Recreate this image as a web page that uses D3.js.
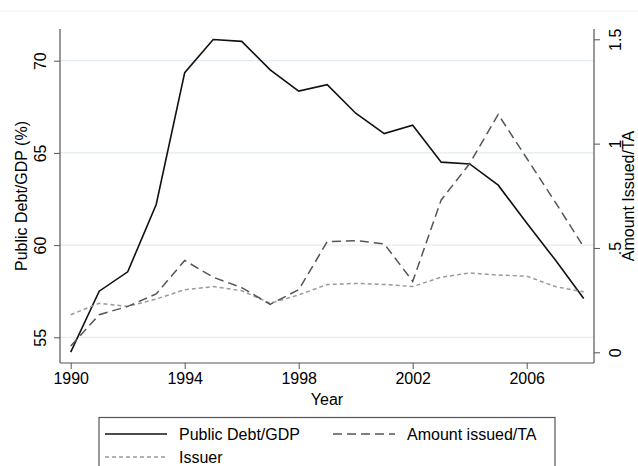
<!DOCTYPE html>
<html>
<head>
<meta charset="utf-8">
<script src="https://cdn.jsdelivr.net/npm/d3@7"></script>
<style>
  body { margin: 0; background: #fff; }
  text { font-family: "Liberation Sans", Arial, sans-serif; }
</style>
</head>
<body>
<div id="chart"></div>
<script>
// data
let years = [1990, 1991, 1992, 1993, 1994, 1995, 1996, 1997, 1998, 1999,
             2000, 2001, 2002, 2003, 2004, 2005, 2006, 2007, 2008];
let debtGdp = [54.2, 57.5, 58.55, 62.2, 69.35, 71.15, 71.05, 69.5, 68.35, 68.7,
               67.15, 66.05, 66.5, 64.5, 64.4, 63.25, 61.2, 59.2, 57.1];
let amountIssued = [0.03, 0.18, 0.22, 0.28, 0.44, 0.36, 0.31, 0.23, 0.30, 0.53,
                    0.535, 0.52, 0.34, 0.73, 0.905, 1.14, 0.93, 0.72, 0.505];
let issuer = [0.18, 0.235, 0.22, 0.255, 0.30, 0.315, 0.295, 0.235, 0.275, 0.325,
              0.33, 0.325, 0.315, 0.36, 0.38, 0.37, 0.365, 0.315, 0.29];
let xTicks = [1990, 1994, 1998, 2002, 2006];
let leftTicks = [55, 60, 65, 70];
let rightTicks = [0, 0.5, 1, 1.5];
let rightTickLabels = ["0", ".5", "1", "1.5"];

let svgWidth = 638;
let svgHeight = 466;
let plot = { left: 60, right: 594, top: 29, bottom: 363 };

let svg = d3.select("#chart").append("svg")
  .attr("width", svgWidth)
  .attr("height", svgHeight);

// scales
let xScale = d3.scaleLinear().domain([1990, 2008]).range([70.7, 583.7]);
let yLeft = d3.scaleLinear().domain([55, 70]).range([337.3, 60.7]);
let yRight = d3.scaleLinear().domain([0, 1.5]).range([352.3, 39.3]);

// faint top border line
svg.append("line")
  .attr("x1", 0).attr("x2", svgWidth)
  .attr("y1", 11).attr("y2", 11)
  .attr("stroke", "#eef0f2").attr("stroke-width", 1);

// gridlines
svg.append("g").selectAll("line")
  .data(leftTicks)
  .enter()
  .append("line")
  .attr("x1", plot.left).attr("x2", plot.right)
  .attr("y1", function(d) { return yLeft(d); })
  .attr("y2", function(d) { return yLeft(d); })
  .attr("stroke", "#e3ecf0").attr("stroke-width", 1.2);

// axes
let axisColor = "#555";
let leftAxis = svg.append("g")
  .attr("transform", "translate(" + plot.left + ",0)")
  .call(d3.axisLeft(yLeft).tickValues(leftTicks).tickSize(6).tickPadding(14).tickFormat(d3.format("d")));

let rightAxis = svg.append("g")
  .attr("transform", "translate(" + plot.right + ",0)")
  .call(d3.axisRight(yRight).tickValues(rightTicks).tickSize(6).tickPadding(14)
    .tickFormat(function(d, i) { return rightTickLabels[i]; }));

let bottomAxis = svg.append("g")
  .attr("transform", "translate(0," + plot.bottom + ")")
  .call(d3.axisBottom(xScale).tickValues(xTicks).tickSize(6).tickPadding(4).tickFormat(d3.format("d")));

[leftAxis, rightAxis, bottomAxis].forEach(function(ax) {
  ax.select(".domain").remove();
  ax.selectAll(".tick line").attr("stroke", axisColor);
  ax.selectAll(".tick text").attr("fill", "#000").style("font-size", "16px")
    .style("font-family", "'Liberation Sans', Arial, sans-serif");
});

// rotate y tick labels
leftAxis.selectAll(".tick text")
  .attr("transform", "rotate(-90)")
  .attr("x", 0).attr("y", -20)
  .attr("dy", "0.35em")
  .attr("text-anchor", "middle");
rightAxis.selectAll(".tick text")
  .attr("transform", "rotate(-90)")
  .attr("x", 0).attr("y", 21)
  .attr("dy", "0.35em")
  .attr("text-anchor", "middle");

// axis lines
svg.append("line").attr("x1", plot.left).attr("x2", plot.left)
  .attr("y1", plot.top).attr("y2", plot.bottom).attr("stroke", axisColor).attr("stroke-width", 1.2);
svg.append("line").attr("x1", plot.right).attr("x2", plot.right)
  .attr("y1", plot.top).attr("y2", plot.bottom).attr("stroke", axisColor).attr("stroke-width", 1.2);
svg.append("line").attr("x1", plot.left).attr("x2", plot.right)
  .attr("y1", plot.bottom).attr("y2", plot.bottom).attr("stroke", axisColor).attr("stroke-width", 1.2);

// series lines
let series = [
  { values: debtGdp, scale: yLeft, color: "#111", dash: null, width: 1.6 },
  { values: issuer, scale: yRight, color: "#9a9a9a", dash: "4,3", width: 1.5 },
  { values: amountIssued, scale: yRight, color: "#555", dash: "9,5", width: 1.5 }
];

series.forEach(function(s) {
  let line = d3.line()
    .x(function(d, i) { return xScale(years[i]); })
    .y(function(d) { return s.scale(d); });
  svg.append("path")
    .datum(s.values)
    .attr("d", line)
    .attr("fill", "none")
    .attr("stroke", s.color)
    .attr("stroke-width", s.width)
    .attr("stroke-dasharray", s.dash);
});

// axis titles
svg.append("text")
  .text("Year")
  .attr("x", 327).attr("y", 405)
  .attr("text-anchor", "middle")
  .style("font-size", "16px");

svg.append("text")
  .text("Public Debt/GDP (%)")
  .attr("transform", "translate(27,196) rotate(-90)")
  .attr("text-anchor", "middle")
  .style("font-size", "16px");

svg.append("text")
  .text("Amount Issued/TA")
  .attr("transform", "translate(634,196) rotate(-90)")
  .attr("text-anchor", "middle")
  .style("font-size", "16px");

// legend
let legend = svg.append("g");
legend.append("rect")
  .attr("x", 99).attr("y", 417.5)
  .attr("width", 456).attr("height", 60)
  .attr("fill", "#fff").attr("stroke", "#555").attr("stroke-width", 1.2);

let legendItems = [
  { label: "Public Debt/GDP", x: 105, y: 434, color: "#111", dash: null, width: 1.6 },
  { label: "Amount issued/TA", x: 333, y: 434, color: "#555", dash: "9,5", width: 1.5 },
  { label: "Issuer", x: 105, y: 457, color: "#9a9a9a", dash: "4,3", width: 1.5 }
];

legendItems.forEach(function(item) {
  legend.append("line")
    .attr("x1", item.x).attr("x2", item.x + 62)
    .attr("y1", item.y).attr("y2", item.y)
    .attr("stroke", item.color)
    .attr("stroke-width", item.width)
    .attr("stroke-dasharray", item.dash);
  legend.append("text")
    .text(item.label)
    .attr("x", item.x + 74).attr("y", item.y)
    .attr("dy", "0.35em")
    .style("font-size", "16px");
});
</script>
</body>
</html>
